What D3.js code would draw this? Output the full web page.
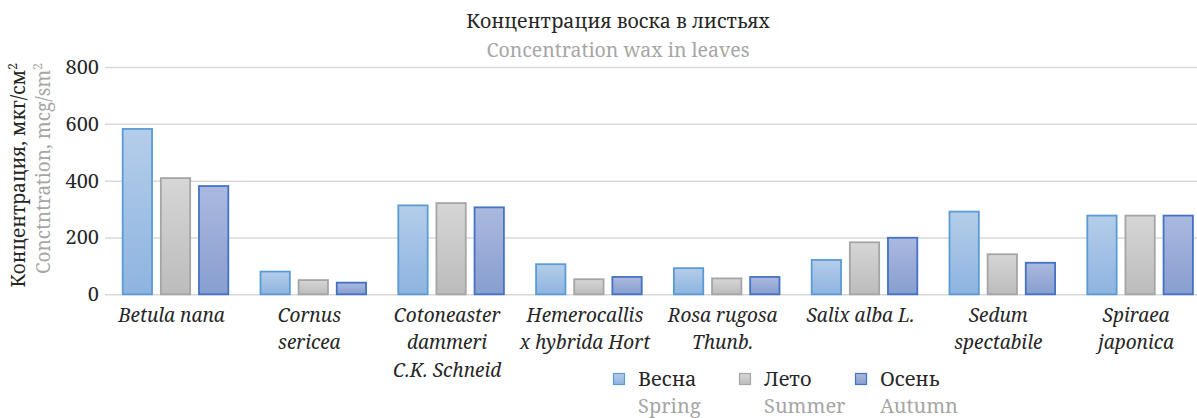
<!DOCTYPE html>
<html>
<head>
<meta charset="utf-8">
<script src="https://cdn.jsdelivr.net/npm/d3@7"></script>
</head>
<body style="margin:0">
<svg id="chart" width="1197" height="418"></svg>
<script>
// ---- data ----
const categories = ["Betula nana", "Cornus sericea", "Cotoneaster dammeri C.K. Schneid",
  "Hemerocallis x hybrida Hort", "Rosa rugosa Thunb.", "Salix alba L.",
  "Sedum spectabile", "Spiraea japonica"];
const categoryLines = [["Betula nana"], ["Cornus", "sericea"], ["Cotoneaster", "dammeri", "C.K. Schneid"],
  ["Hemerocallis", "x hybrida Hort"], ["Rosa rugosa", "Thunb."], ["Salix alba L."],
  ["Sedum", "spectabile"], ["Spiraea", "japonica"]];
const seriesNames = ["Весна", "Лето", "Осень"];
const seriesNamesEn = ["Spring", "Summer", "Autumn"];
const spring = [582, 80, 313, 106, 92, 121, 291, 277];
const summer = [409, 50, 321, 53, 56, 183, 141, 277];
const autumn = [381, 41, 306, 61, 61, 199, 111, 277];
const yTicks = [0, 200, 400, 600, 800];
const titleRu = "Концентрация воска в листьях";
const titleEn = "Concentration wax in leaves";
const yLabelRu = "Концентрация, мкг/см";
const yLabelEn = "Conctntration, mcg/sm";

const FONT = "Noto Serif";
const seriesValues = [spring, summer, autumn];
const styles = [
  {top: "#b5cdea", bottom: "#8db4e0", stroke: "#5b9bd5"},
  {top: "#d6d6d6", bottom: "#bcbcbc", stroke: "#a5a5a5"},
  {top: "#abb9df", bottom: "#879ecf", stroke: "#4472c4"}
];

const svg = d3.select("#chart");
const W = 1197;
const plotLeft = 106.6, step = 137.8;
const x0 = d3.scaleBand().domain(categories)
  .range([plotLeft, plotLeft + step * categories.length])
  .paddingInner(0.219).paddingOuter(0.1095);
const x1 = d3.scaleBand().domain(seriesNames).range([0, x0.bandwidth()])
  .paddingInner(0.178).paddingOuter(0);
const y = d3.scaleLinear().domain([0, 800]).range([294.3, 67]);

function txt(sel, size, color) {
  return sel.style("font-family", FONT).attr("font-size", size).attr("fill", color);
}

// gradients
const defs = svg.append("defs");
styles.forEach((s, i) => {
  const g = defs.append("linearGradient").attr("id", "g" + i)
    .attr("x1", 0).attr("y1", 0).attr("x2", 0).attr("y2", 1);
  g.append("stop").attr("offset", "0%").attr("stop-color", s.top);
  g.append("stop").attr("offset", "100%").attr("stop-color", s.bottom);
});

// gridlines + y axis
const yAxis = d3.axisLeft(y).tickValues(yTicks).tickSize(-(W - 105)).tickPadding(6)
  .tickFormat(d3.format("d"));
const ya = svg.append("g").attr("transform", "translate(105,0)").call(yAxis);
ya.attr("font-family", null).attr("font-size", null);
ya.select(".domain").remove();
ya.selectAll(".tick line").attr("stroke", "#d9d9d9").attr("stroke-width", 1.5);
txt(ya.selectAll(".tick text"), 20, "#262626");

// bars
const groups = svg.append("g").selectAll("g").data(categories).join("g")
  .attr("transform", d => `translate(${x0(d)},0)`);
groups.selectAll("rect")
  .data((d, ci) => seriesNames.map((s, si) => ({s, si, v: seriesValues[si][ci]})))
  .join("rect")
  .attr("x", d => x1(d.s) + 1)
  .attr("width", x1.bandwidth() - 2)
  .attr("y", d => y(d.v))
  .attr("height", d => y(0) - y(d.v))
  .attr("fill", d => `url(#g${d.si})`)
  .attr("stroke", d => styles[d.si].stroke)
  .attr("stroke-width", 1.8);

// x labels
const xa = svg.append("g").attr("transform", "translate(0,294.3)")
  .call(d3.axisBottom(x0).tickSize(0).tickPadding(0));
xa.attr("font-family", null).attr("font-size", null);
xa.select(".domain").remove();
xa.selectAll(".tick text").each(function(d, i) {
  const t = txt(d3.select(this).text(null), 19, "#262626")
    .style("font-style", "italic").attr("dy", null).attr("y", 0);
  categoryLines[i].forEach((line, li) => {
    t.append("tspan").attr("x", -4).attr("y", 27.5 + li * 27.5).text(line);
  });
});

// title
txt(svg.append("text"), 19.5, "#262626").attr("x", 618).attr("y", 28)
  .attr("text-anchor", "middle").text(titleRu);
txt(svg.append("text"), 19.5, "#a6a6a6").attr("x", 618).attr("y", 57)
  .attr("text-anchor", "middle").text(titleEn);

// y label
const yl = svg.append("g").attr("transform", "translate(0,63) rotate(-90)");
const l1 = txt(yl.append("text"), 19, "#262626").attr("x", 0).attr("y", 25)
  .attr("text-anchor", "end").text(yLabelRu);
l1.append("tspan").attr("font-size", 12).attr("dy", -8).text("2");
const l2 = txt(yl.append("text"), 19, "#a6a6a6").attr("x", 0).attr("y", 50)
  .attr("text-anchor", "end").text(yLabelEn);
l2.append("tspan").attr("font-size", 12).attr("dy", -8).text("2");

// legend
const legX = [613, 739, 855];
const leg = svg.append("g").selectAll("g").data(seriesNames).join("g")
  .attr("transform", (d, i) => `translate(${legX[i]},373)`);
leg.append("rect").attr("x", 0.5).attr("y", 0.5).attr("width", 11).attr("height", 11)
  .attr("fill", (d, i) => `url(#g${i})`).attr("stroke", (d, i) => styles[i].stroke)
  .attr("stroke-width", 1.2);
txt(leg.append("text"), 20, "#262626").attr("x", 25).attr("y", 13).text(d => d);
txt(leg.append("text"), 20, "#a6a6a6").attr("x", 25).attr("y", 40)
  .text((d, i) => seriesNamesEn[i]);
</script>
</body>
</html>
